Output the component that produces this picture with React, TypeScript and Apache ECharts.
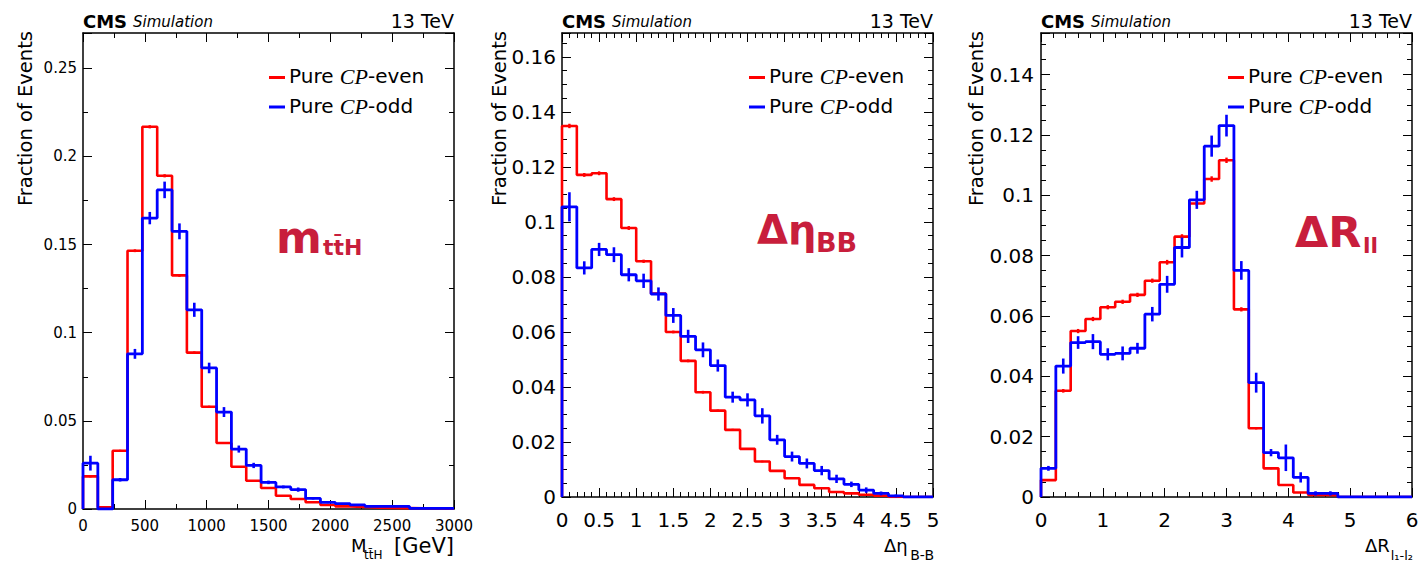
import React, { useEffect, useRef } from "react";
import * as echarts from "echarts";

// ---------- data ----------
// Panel 1: M_ttH, 25 bins of 120 GeV from 0 to 3000
const massLo = 0;
const massBin = 120;
const massEven = [0.0185, 0.001, 0.033, 0.1465, 0.2168, 0.189, 0.1325, 0.0887, 0.058, 0.0374, 0.024, 0.016, 0.0119, 0.0075, 0.0057, 0.0038, 0.0023, 0.0015, 0.0011, 0.0008, 0.0006, 0.0005, 0.0004, 0.0003, 0.0002];
const massOdd = [0.026, 0, 0.0166, 0.088, 0.165, 0.181, 0.1575, 0.113, 0.08, 0.055, 0.034, 0.0247, 0.0151, 0.0125, 0.011, 0.006, 0.0038, 0.003, 0.0023, 0.0015, 0.0015, 0.0015, 0.0004, 0.0004, 0.0004];
const massEvenErr = [0.0006, 0.0003, 0.0006, 0.0008, 0.0009, 0.0009, 0.0008, 0.0007, 0.0006, 0.0005, 0.0004, 0.0004, 0.0003, 0.0003, 0.0003, 0.0002, 0.0002, 0.0002, 0.0001, 0.0001, 0.0001, 0.0001, 0.0001, 0.0001, 0.0001];
const massOddErr = [0.0042, 0, 0.001, 0.0028, 0.0035, 0.0047, 0.0045, 0.004, 0.003, 0.0028, 0.002, 0.0015, 0.001, 0.0008, 0.0012, 0.0006, 0.0005, 0.0004, 0.0004, 0.0003, 0.0003, 0.0003, 0.0002, 0.0002, 0.0002];

// Panel 2: delta eta B-B, 25 bins of 0.2 from 0 to 5
const etaLo = 0;
const etaBin = 0.2;
const etaEven = [0.1349, 0.1171, 0.1177, 0.1083, 0.0978, 0.0857, 0.074, 0.06, 0.0495, 0.0381, 0.0314, 0.0244, 0.0175, 0.0129, 0.0095, 0.0068, 0.0044, 0.0032, 0.0018, 0.0013, 0.0008, 0.0005, 0, 0, 0];
const etaOdd = [0.1055, 0.0833, 0.09, 0.0881, 0.0808, 0.0786, 0.0738, 0.066, 0.0584, 0.0535, 0.0478, 0.0363, 0.0353, 0.0295, 0.0208, 0.0147, 0.0122, 0.0096, 0.0066, 0.0046, 0.0025, 0.0013, 0.0004, 0, 0];
const etaEvenErr = [0.0008, 0.0007, 0.0007, 0.0007, 0.0007, 0.0006, 0.0006, 0.0005, 0.0005, 0.0005, 0.0004, 0.0004, 0.0003, 0.0003, 0.0003, 0.0002, 0.0002, 0.0002, 0.0001, 0.0001, 0.0001, 0.0001, 0, 0, 0];
const etaOddErr = [0.0053, 0.0024, 0.0024, 0.0027, 0.0024, 0.0026, 0.0024, 0.0027, 0.0024, 0.0027, 0.0022, 0.002, 0.0024, 0.0028, 0.0018, 0.0018, 0.0018, 0.0017, 0.0015, 0.001, 0.001, 0.0007, 0.0005, 0, 0];

// Panel 3: delta R l1-l2, 25 bins of 0.24 from 0 to 6
const drLo = 0;
const drBin = 0.24;
const drEven = [0.0056, 0.0352, 0.055, 0.059, 0.0629, 0.0647, 0.067, 0.0717, 0.0778, 0.0863, 0.0973, 0.1054, 0.1116, 0.0622, 0.0228, 0.0095, 0.004, 0.0015, 0.0007, 0.0006, 0, 0, 0, 0, 0];
const drOdd = [0.0095, 0.0434, 0.0512, 0.0515, 0.0473, 0.0476, 0.0493, 0.0606, 0.0705, 0.0827, 0.0985, 0.1163, 0.1231, 0.0751, 0.0379, 0.0147, 0.013, 0.0065, 0.0012, 0.0012, 0, 0, 0, 0, 0];
const drEvenErr = [0.0003, 0.0006, 0.0007, 0.0007, 0.0007, 0.0007, 0.0007, 0.0007, 0.0008, 0.0008, 0.0008, 0.0009, 0.0009, 0.0007, 0.0004, 0.0003, 0.0002, 0.0001, 0.0001, 0.0001, 0, 0, 0, 0, 0];
const drOddErr = [0.0008, 0.0025, 0.0021, 0.0025, 0.002, 0.0023, 0.0018, 0.0024, 0.0028, 0.0033, 0.003, 0.0035, 0.0036, 0.0031, 0.0033, 0.0012, 0.0044, 0.0017, 0.0007, 0.0007, 0, 0, 0, 0, 0];

const legendLabels = ["Pure ", "CP", "-even", "-odd"];
const yTitle = "Fraction of Events";

// ---------- helpers ----------
const RED = "#ff0000";
const BLUE = "#0000ff";
const ANNOT = "#c81e3c";
const FONT = "DejaVu Sans";

function stepData(lo: number, w: number, vals: number[]) {
  const d: number[][] = [[lo, 0]];
  vals.forEach((v, i) => d.push([lo + i * w, v]));
  const end = lo + vals.length * w;
  d.push([end, vals[vals.length - 1]]);
  d.push([end, 0]);
  return d;
}

function errData(lo: number, w: number, vals: number[], errs: number[]) {
  const d: number[][] = [];
  vals.forEach((v, i) => {
    if (errs[i] > 0) d.push([lo + (i + 0.5) * w, v, errs[i]]);
  });
  return d;
}

const panels = [
  { left: 83, top: 33, width: 371, height: 476, xmax: 3000, xint: 500, xminor: 2, ymax: 0.27, yint: 0.05, yminor: 2, fs: 15,
    lo: massLo, w: massBin, even: massEven, odd: massOdd, evenErr: massEvenErr, oddErr: massOddErr, xMargin: 9, yMargin: 6 },
  { left: 562, top: 33, width: 371, height: 464, xmax: 5, xint: 0.5, xminor: 5, ymax: 0.1687, yint: 0.02, yminor: 4, fs: 20,
    lo: etaLo, w: etaBin, even: etaEven, odd: etaOdd, evenErr: etaEvenErr, oddErr: etaOddErr, xMargin: 13, yMargin: 6 },
  { left: 1041, top: 33, width: 371, height: 464, xmax: 6, xint: 1, xminor: 5, ymax: 0.1538, yint: 0.02, yminor: 4, fs: 20,
    lo: drLo, w: drBin, even: drEven, odd: drOdd, evenErr: drEvenErr, oddErr: drOddErr, xMargin: 13, yMargin: 7 },
];

function errSeries(color: string, width: number, xi: number, data: number[][]) {
  return {
    type: "custom",
    xAxisIndex: xi,
    yAxisIndex: xi,
    encode: { x: 0, y: 1 },
    data,
    z: color === BLUE ? 6 : 4,
    renderItem: (params: any, api: any) => {
      const x = api.value(0);
      const y = api.value(1);
      const e = api.value(2);
      const p1 = api.coord([x, y - e]);
      const p2 = api.coord([x, y + e]);
      return {
        type: "line",
        shape: { x1: p1[0], y1: p1[1], x2: p2[0], y2: p2[1] },
        style: { stroke: color, lineWidth: width },
      };
    },
  };
}

function fmt(v: number) {
  return String(Math.round(v * 10000) / 10000);
}

function buildOption() {
  const grid: any[] = [];
  const xAxis: any[] = [];
  const yAxis: any[] = [];
  const series: any[] = [];
  const graphic: any[] = [];

  panels.forEach((p, g) => {
    grid.push({ left: p.left, top: p.top, width: p.width, height: p.height, containLabel: false });
    const axisLine = { show: true, onZero: false, lineStyle: { color: "#000", width: 1.5 } };
    const tick = { show: true, inside: true, length: 9, lineStyle: { color: "#000", width: 1 } };
    const labelStyle = { color: "#000", fontFamily: FONT, fontSize: p.fs, formatter: fmt };
    for (const pos of ["bottom", "top"]) {
      xAxis.push({
        type: "value", gridIndex: g, position: pos, min: 0, max: p.xmax, interval: p.xint,
        axisLine, axisTick: tick,
        minorTick: { show: true, splitNumber: p.xminor, length: 5, lineStyle: { color: "#000", width: 1 } },
        splitLine: { show: false },
        axisLabel: pos === "bottom" ? { ...labelStyle, margin: p.xMargin, showMaxLabel: true } : { show: false },
      });
    }
    for (const pos of ["left", "right"]) {
      yAxis.push({
        type: "value", gridIndex: g, position: pos, min: 0, max: p.ymax, interval: p.yint,
        axisLine, axisTick: tick,
        minorTick: { show: true, splitNumber: p.yminor, length: 5, lineStyle: { color: "#000", width: 1 } },
        splitLine: { show: false },
        axisLabel: pos === "left" ? { ...labelStyle, margin: p.yMargin, showMaxLabel: false } : { show: false },
      });
    }
    const xi = 2 * g;
    series.push({
      type: "line", xAxisIndex: xi, yAxisIndex: xi, step: "end", symbol: "none", z: 3,
      lineStyle: { color: RED, width: 2.6 }, data: stepData(p.lo, p.w, p.even),
    });
    series.push(errSeries(RED, 2.4, xi, errData(p.lo, p.w, p.even, p.evenErr)));
    series.push({
      type: "line", xAxisIndex: xi, yAxisIndex: xi, step: "end", symbol: "none", z: 5,
      lineStyle: { color: BLUE, width: 2.8 }, data: stepData(p.lo, p.w, p.odd),
    });
    series.push(errSeries(BLUE, 2.6, xi, errData(p.lo, p.w, p.odd, p.oddErr)));

    const L = p.left;
    const R = p.left + p.width;
    // header
    graphic.push({ type: "text", x: L, y: 21, style: { text: "CMS", fontFamily: FONT, fontWeight: "bold", fontSize: 18, fill: "#000", verticalAlign: "middle" } });
    graphic.push({ type: "text", x: L + 50, y: 22, style: { text: "Simulation", fontFamily: FONT, fontStyle: "italic", fontSize: 15, fill: "#000", verticalAlign: "middle" } });
    graphic.push({ type: "text", x: R, y: 20.5, style: { text: "13 TeV", fontFamily: FONT, fontSize: 19, fill: "#000", align: "right", verticalAlign: "middle" } });
    // y title
    const yTitleX = [25, 499, 976][g];
    graphic.push({ type: "text", x: yTitleX, y: 31, rotation: Math.PI / 2, style: { text: yTitle, fontFamily: FONT, fontSize: 19.5, fill: "#000", align: "right", verticalAlign: "middle" } });
    // legend
    const lx = [269, 749, 1228][g];
    const rich = {
      a: { fontFamily: FONT, fontSize: 20, fill: "#000" },
      b: { fontFamily: "Liberation Serif", fontStyle: "italic", fontSize: 22, fill: "#000" },
    };
    graphic.push({ type: "line", shape: { x1: lx, y1: 77.5, x2: lx + 16, y2: 77.5 }, style: { stroke: RED, lineWidth: 3 } });
    graphic.push({ type: "line", shape: { x1: lx, y1: 107, x2: lx + 16, y2: 107 }, style: { stroke: BLUE, lineWidth: 3 } });
    graphic.push({ type: "text", x: lx + 20, y: 76, style: { text: `{a|${legendLabels[0]}}{b|${legendLabels[1]}}{a|${legendLabels[2]}}`, rich, verticalAlign: "middle" } });
    graphic.push({ type: "text", x: lx + 20, y: 106, style: { text: `{a|${legendLabels[0]}}{b|${legendLabels[1]}}{a|${legendLabels[3]}}`, rich, verticalAlign: "middle" } });
  });

  const t = (x: number, y: number, text: string, fontSize: number, extra: any = {}) => ({
    type: "text", x, y, z: 100,
    style: { text, fontFamily: FONT, fontSize, fill: "#000", verticalAlign: "middle", ...extra },
  });

  // big annotations
  graphic.push(t(276, 237, "m", 44, { fontWeight: "bold", fill: ANNOT }));
  graphic.push(t(323, 247, "tt\u0304H", 22, { fontWeight: "bold", fill: ANNOT }));
  graphic.push(t(757, 230, "\u0394\u03b7", 40, { fontWeight: "bold", fill: ANNOT }));
  graphic.push(t(816, 242.5, "BB", 27, { fontWeight: "bold", fill: ANNOT }));
  graphic.push(t(1295, 232, "\u0394R", 43, { fontWeight: "bold", fill: ANNOT }));
  graphic.push(t(1363, 245, "ll", 22, { fontWeight: "bold", fill: ANNOT }));

  // x-axis titles
  graphic.push(t(351, 545, "M", 18));
  graphic.push(t(364, 555, "tt\u0304H", 12));
  graphic.push(t(454, 546, "[GeV]", 21, { align: "right" }));
  graphic.push(t(884, 545, "\u0394\u03b7", 18));
  graphic.push(t(934, 555, "B-B", 14, { align: "right" }));
  graphic.push(t(1365, 545, "\u0394R", 18));
  graphic.push(t(1413, 555, "l\u2081-l\u2082", 13, { align: "right" }));

  return {
    animation: false,
    backgroundColor: "#fff",
    grid,
    xAxis,
    yAxis,
    series,
    graphic,
  };
}

export default function App() {
  const ref = useRef<HTMLDivElement>(null);
  useEffect(() => {
    if (!ref.current) return;
    const chart = echarts.init(ref.current, undefined, { renderer: "svg" });
    chart.setOption(buildOption() as any);
    return () => chart.dispose();
  }, []);
  return (
    <div
      ref={ref}
      style={{ position: "absolute", left: 0, top: 0, width: 1427, height: 564, background: "#fff" }}
    />
  );
}
